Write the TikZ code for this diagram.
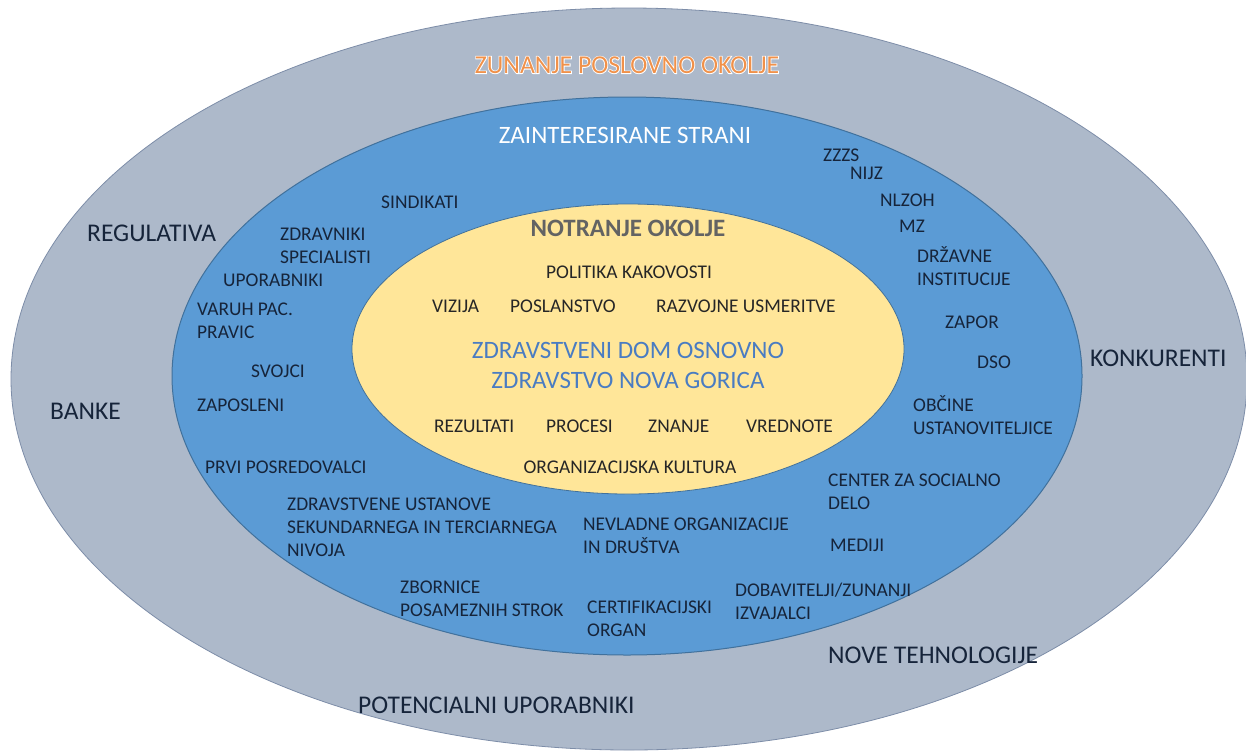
\documentclass[tikz,border=0pt]{standalone}
\usepackage{fontspec}
\setmainfont{Carlito}
\usetikzlibrary{calc}
\definecolor{outerc}{HTML}{ADB9CA}
\definecolor{outerline}{HTML}{7D8DA8}
\definecolor{bluec}{HTML}{5B9BD5}
\definecolor{blueline}{HTML}{41719C}
\definecolor{yellowc}{HTML}{FFE699}
\definecolor{navy}{HTML}{16243A}
\definecolor{darktxt}{HTML}{262626}
\definecolor{orangec}{HTML}{F0914A}
\definecolor{titleblue}{HTML}{4A7CC2}
\definecolor{greytxt}{HTML}{636363}
\tikzset{
  bluelbl/.style={anchor=west, inner sep=0pt, align=left, text=navy, font=\fontsize{19.4}{23}\selectfont},
  yellbl/.style={anchor=west, inner sep=0pt, align=left, text=darktxt, font=\fontsize{19.4}{23}\selectfont},
  outerlbl/.style={anchor=west, inner sep=0pt, text=navy, font=\fontsize{25.5}{29}\selectfont},
}
\begin{document}
\begin{tikzpicture}[x=1pt,y=-1pt]
\useasboundingbox (0,0) rectangle (1246,753);
\fill[white] (0,0) rectangle (1246,753);
% ellipses
\filldraw[fill=outerc, draw=outerline, line width=0.8pt] (629,379) ellipse [x radius=618, y radius=371];
\filldraw[fill=bluec, draw=blueline, line width=1pt] (627,376) ellipse [x radius=455, y radius=279];
\filldraw[fill=yellowc, draw=blueline, line width=0.8pt] (628,349) ellipse [x radius=276, y radius=145];

% outer title with white glow
\node[inner sep=0pt, text=white, font=\fontsize{25.7}{30}\selectfont\addfontfeature{FakeBold=6}] (glow) at (627,65) {ZUNANJE POSLOVNO OKOLJE};
\node[inner sep=0pt, text=orangec, font=\fontsize{25.7}{30}\selectfont] (zunanje) at (627,65) {ZUNANJE POSLOVNO OKOLJE};

% outer labels
\node[outerlbl] (regulativa) at (87,233) {REGULATIVA};
\node[outerlbl] (banke) at (50,411) {BANKE};
\node[outerlbl] (konkurenti) at (1090,358) {KONKURENTI};
\node[outerlbl] (nove) at (828,655) {NOVE TEHNOLOGIJE};
\node[outerlbl] (potencialni) at (358,705) {POTENCIALNI UPORABNIKI};

% blue ring
\node[inner sep=0pt, text=white, font=\fontsize{25}{29}\selectfont] (zainteresirane) at (625,135) {ZAINTERESIRANE STRANI};
\node[bluelbl] (zzzs) at (823,155) {ZZZS};
\node[bluelbl] (nijz) at (850,173) {NIJZ};
\node[bluelbl] (nlzoh) at (880,200) {NLZOH};
\node[bluelbl] (mz) at (899,226) {MZ};
\node[bluelbl] (drzavne) at (917,266) {DRŽAVNE\\INSTITUCIJE};
\node[bluelbl] (zapor) at (945,322) {ZAPOR};
\node[bluelbl] (dso) at (977,362) {DSO};
\node[bluelbl] (obcine) at (913,415) {OBČINE\\USTANOVITELJICE};
\node[bluelbl] (center) at (828,492) {CENTER ZA SOCIALNO\\DELO};
\node[bluelbl] (mediji) at (830,545) {MEDIJI};
\node[bluelbl] (dobavitelji) at (735,601) {DOBAVITELJI/ZUNANJI\\IZVAJALCI};
\node[bluelbl] (certifikacijski) at (587,619) {CERTIFIKACIJSKI\\ORGAN};
\node[bluelbl] (nevladne) at (583,536) {NEVLADNE ORGANIZACIJE\\IN DRUŠTVA};
\node[bluelbl] (zbornice) at (400,599) {ZBORNICE\\POSAMEZNIH STROK};
\node[bluelbl] (zdrustanove) at (287,527) {ZDRAVSTVENE USTANOVE\\SEKUNDARNEGA IN TERCIARNEGA\\NIVOJA};
\node[bluelbl] (prvi) at (205,467) {PRVI POSREDOVALCI};
\node[bluelbl] (zaposleni) at (197,405) {ZAPOSLENI};
\node[bluelbl] (svojci) at (251,371) {SVOJCI};
\node[bluelbl] (varuh) at (197,321) {VARUH PAC.\\PRAVIC};
\node[bluelbl] (uporabniki) at (223,280) {UPORABNIKI};
\node[bluelbl] (zdravniki) at (280,246) {ZDRAVNIKI\\SPECIALISTI};
\node[bluelbl] (sindikati) at (381,202) {SINDIKATI};

% yellow core
\node[inner sep=0pt, text=greytxt, font=\bfseries\fontsize{25}{29}\selectfont] (notranje) at (628,228) {NOTRANJE OKOLJE};
\node[yellbl, anchor=center] (politika) at (629,272) {POLITIKA KAKOVOSTI};
\node[yellbl] (vizija) at (432,306) {VIZIJA};
\node[yellbl] (poslanstvo) at (510,306) {POSLANSTVO};
\node[yellbl] (razvojne) at (656,306) {RAZVOJNE USMERITVE};
\node[inner sep=0pt, align=center, text=titleblue, font=\fontsize{25}{30}\selectfont] (zdravstveni) at (628,365) {ZDRAVSTVENI DOM OSNOVNO\\ZDRAVSTVO NOVA GORICA};
\node[yellbl] (rezultati) at (434,426) {REZULTATI};
\node[yellbl] (procesi) at (546,426) {PROCESI};
\node[yellbl] (znanje) at (648,426) {ZNANJE};
\node[yellbl] (vrednote) at (746,426) {VREDNOTE};
\node[yellbl, anchor=center] (kultura) at (630,467) {ORGANIZACIJSKA KULTURA};
\end{tikzpicture}
\end{document}
